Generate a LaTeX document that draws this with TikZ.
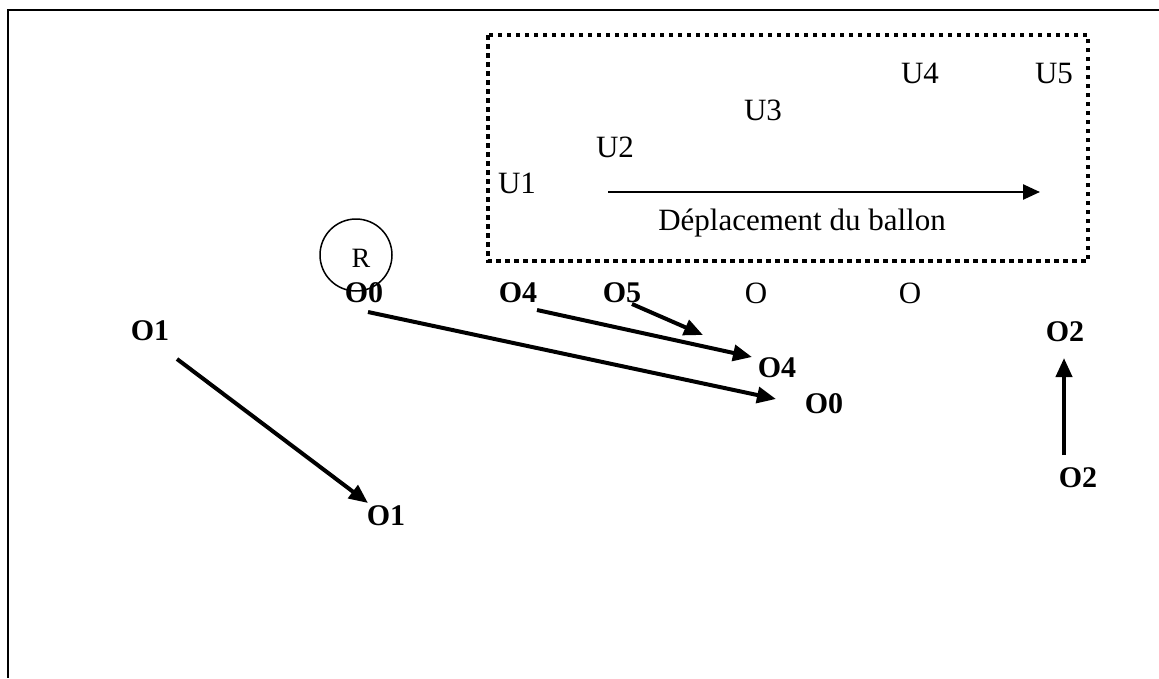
\documentclass[tikz,border=0pt]{standalone}
\usepackage{fontspec}
\setmainfont{Liberation Serif}
\usetikzlibrary{arrows.meta}
\begin{document}
\begin{tikzpicture}[x=1pt,y=-1pt,
  lbl/.style={inner sep=0pt,anchor=base,font=\fontsize{30}{36}\selectfont\bfseries},
  ulbl/.style={inner sep=0pt,anchor=base,font=\fontsize{31}{37}\selectfont},
  bigarrow/.style={line width=4pt,-{Triangle[length=19pt,width=16pt]}},
  thinarrow/.style={line width=2.5pt,-{Triangle[length=17pt,width=15pt]}},
  dotbox/.style={line width=4.5pt,dash pattern=on 4.5pt off 4.5pt}]
\useasboundingbox (0,0) rectangle (1159,678);
% outer frame (top and left visible)
\draw[line width=2pt] (1159,10) -- (8,10) -- (8,678);
% dotted box
\draw[dotbox] (488,35) rectangle (1088,261);
% U labels
\node[ulbl] (u1) at (517,193) {U1};
\node[ulbl] (u2) at (615,157) {U2};
\node[ulbl] (u3) at (763,120) {U3};
\node[ulbl] (u4) at (920,83) {U4};
\node[ulbl] (u5) at (1054,83) {U5};
\coordinate (ms) at (608,192);
\coordinate (me) at (1040,192);
\draw[thinarrow] (ms) -- (me);
\node[ulbl] (dep) at (802,230) {Déplacement du ballon};
% R circle
\node[draw,circle,line width=1.5pt,minimum size=72pt,inner sep=0pt] (rc) at (356,255) {};
\node[ulbl,font=\fontsize{28}{34}\selectfont] (r) at (361,267) {R};
% top row
\node[lbl] (o0a) at (364,302) {O0};
\node[lbl] (o4a) at (518,302) {O4};
\node[lbl] (o5) at (622,302) {O5};
\node[ulbl] (oa) at (756,303) {O};
\node[ulbl] (ob) at (910,303) {O};
\node[lbl] (o1a) at (150,340) {O1};
\node[lbl] (o2a) at (1065,341) {O2};
\node[lbl] (o4b) at (777,377) {O4};
\node[lbl] (o0b) at (824,413) {O0};
\node[lbl] (o2b) at (1078,487) {O2};
\node[lbl] (o1b) at (386,525) {O1};
% arrow end points
\coordinate (a0s) at (368,312);
\coordinate (a0e) at (776,399);
\coordinate (a4s) at (537,310);
\coordinate (a4e) at (752,357);
\coordinate (a5s) at (632,304);
\coordinate (a5e) at (703,335);
\coordinate (a1s) at (177,359);
\coordinate (a1e) at (368,503);
\coordinate (a2s) at (1064,455);
\coordinate (a2e) at (1064,358);
\draw[bigarrow] (a0s) -- (a0e);
\draw[bigarrow] (a4s) -- (a4e);
\draw[bigarrow] (a5s) -- (a5e);
\draw[bigarrow] (a1s) -- (a1e);
\draw[bigarrow] (a2s) -- (a2e);
\end{tikzpicture}
\end{document}
